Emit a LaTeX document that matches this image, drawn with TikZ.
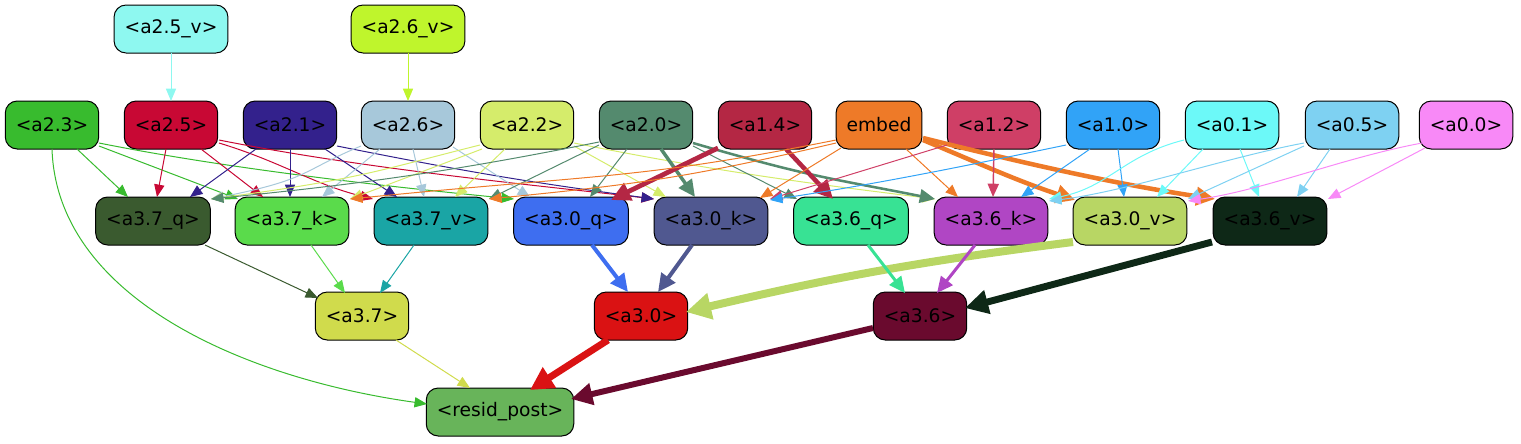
\documentclass[tikz,border=0pt]{standalone}
\usepackage{fontspec}
\setmainfont{DejaVu Sans}
\usetikzlibrary{arrows.meta,calc}
\definecolor{c25v}{HTML}{8EF8F0}
\definecolor{c26v}{HTML}{BFF52C}
\definecolor{c23}{HTML}{38BB2E}
\definecolor{c25}{HTML}{C80834}
\definecolor{c21}{HTML}{33218C}
\definecolor{c26}{HTML}{A7C8DA}
\definecolor{c22}{HTML}{D5EC6B}
\definecolor{c20}{HTML}{548A6E}
\definecolor{c14}{HTML}{B42744}
\definecolor{cemb}{HTML}{EE7A28}
\definecolor{c12}{HTML}{CF3F66}
\definecolor{c10}{HTML}{31A3F7}
\definecolor{c01}{HTML}{6CF9F8}
\definecolor{c05}{HTML}{7ED1F2}
\definecolor{c00}{HTML}{F889F7}
\definecolor{c37q}{HTML}{3A5A2F}
\definecolor{c37k}{HTML}{5ADB4B}
\definecolor{c37v}{HTML}{1AA5A5}
\definecolor{c30q}{HTML}{3E6EF0}
\definecolor{c30k}{HTML}{505890}
\definecolor{c36q}{HTML}{38E294}
\definecolor{c36k}{HTML}{B046C4}
\definecolor{c30v}{HTML}{B8D664}
\definecolor{c36v}{HTML}{0E2817}
\definecolor{c37}{HTML}{D0DB4C}
\definecolor{c30}{HTML}{DA1213}
\definecolor{c36}{HTML}{6A0A2E}
\definecolor{cres}{HTML}{68B45A}
\tikzset{
  nd/.style={draw=black, line width=0.75pt, rounded corners=9pt, minimum height=36pt,
    inner xsep=7.9pt, inner ysep=0pt, font=\fontsize{14pt}{16pt}\selectfont},
  ed/.style 2 args={draw=#1, line width=#2, -{Triangle[length=8pt 1.8, width=6pt 2.2]}}
}
\begin{document}
\begin{tikzpicture}[x=0.75pt,y=-0.75pt]
\useasboundingbox (0,0) rectangle (1521,443);
% rank 0
\node[nd, fill=c25v] (a25v) at (171,29) {<a2.5\_v>};
\node[nd, fill=c26v] (a26v) at (408,29) {<a2.6\_v>};
% rank 1
\node[nd, fill=c23] (a23) at (52,125) {<a2.3>};
\node[nd, fill=c25] (a25) at (171,125) {<a2.5>};
\node[nd, fill=c21] (a21) at (290,125) {<a2.1>};
\node[nd, fill=c26] (a26) at (408,125) {<a2.6>};
\node[nd, fill=c22] (a22) at (527,125) {<a2.2>};
\node[nd, fill=c20] (a20) at (646,125) {<a2.0>};
\node[nd, fill=c14] (a14) at (765,125) {<a1.4>};
\node[nd, fill=cemb] (emb) at (879,125) {embed};
\node[nd, fill=c12] (a12) at (994,125) {<a1.2>};
\node[nd, fill=c10] (a10) at (1113,125) {<a1.0>};
\node[nd, fill=c01] (a01) at (1232,125) {<a0.1>};
\node[nd, fill=c05] (a05) at (1352,125) {<a0.5>};
\node[nd, fill=c00] (a00) at (1466,125) {<a0.0>};
% rank 2
\node[nd, fill=c37q] (a37q) at (153,221) {<a3.7\_q>};
\node[nd, fill=c37k] (a37k) at (292,221) {<a3.7\_k>};
\node[nd, fill=c37v] (a37v) at (431,221) {<a3.7\_v>};
\node[nd, fill=c30q] (a30q) at (571,221) {<a3.0\_q>};
\node[nd, fill=c30k] (a30k) at (711,221) {<a3.0\_k>};
\node[nd, fill=c36q] (a36q) at (851,221) {<a3.6\_q>};
\node[nd, fill=c36k] (a36k) at (991,221) {<a3.6\_k>};
\node[nd, fill=c30v] (a30v) at (1130,221) {<a3.0\_v>};
\node[nd, fill=c36v] (a36v) at (1270,221) {<a3.6\_v>};
% rank 3
\node[nd, fill=c37] (a37) at (362,316) {<a3.7>};
\node[nd, fill=c30] (a30) at (641,316) {<a3.0>};
\node[nd, fill=c36] (a36) at (920,316) {<a3.6>};
% rank 4
\node[nd, fill=cres] (res) at (500,412) {<resid\_post>};

% edges
\draw[ed={c25v}{0.75pt}] ($(a25v)+(0,24)$) -- ($(a25)+(0,-24)$);
\draw[ed={c26v}{0.75pt}] ($(a26v)+(0,24)$) -- ($(a26)+(0,-24)$);
% a2.3
\draw[ed={c23}{0.75pt}] ($(a23)+(25,24)$) -- ($(a37q)+(-25,-24)$);
\draw[ed={c23}{0.75pt}] ($(a23)+(47,21)$) -- ($(a37k)+(-54,-22)$);
\draw[ed={c23}{0.75pt}] ($(a23)+(47,18)$) .. controls +(150,30) and +(-80,-8) .. ($(a30q)+(-57,-22)$);
\draw[ed={c23}{0.75pt}] ($(a23)+(0,24)$) .. controls +(5,150) and +(-180,-25) .. ($(res)+(-73,-8)$);
% a2.5
\draw[ed={c25}{0.75pt}] ($(a25)+(-5,24)$) -- ($(a37q)+(4,-24)$);
\draw[ed={c25}{0.75pt}] ($(a25)+(30,24)$) -- ($(a37k)+(-29,-24)$);
\draw[ed={c25}{0.75pt}] ($(a25)+(48,18)$) .. controls +(60,18) and +(-60,-15) .. ($(a37v)+(-58,-22)$);
\draw[ed={c25}{0.75pt}] ($(a25)+(48,15)$) .. controls +(150,30) and +(-100,-12) .. ($(a30k)+(-57,-22)$);
% a2.1
\draw[ed={c21}{0.75pt}] ($(a21)+(-34,24)$) -- ($(a37q)+(37,-24)$);
\draw[ed={c21}{0.75pt}] ($(a21)+(0,24)$) -- ($(a37k)+(-2,-24)$);
\draw[ed={c21}{0.75pt}] ($(a21)+(35,24)$) -- ($(a37v)+(-34,-24)$);
\draw[ed={c21}{0.75pt}] ($(a21)+(47,21)$) .. controls +(150,30) and +(-110,-15) .. ($(a30k)+(-57,-22)$);
% a2.6
\draw[ed={c26}{0.75pt}] ($(a26)+(-47,21)$) .. controls +(-60,25) and +(100,-20) .. ($(a37q)+(58,-22)$);
\draw[ed={c26}{0.75pt}] ($(a26)+(-28,24)$) -- ($(a37k)+(30,-24)$);
\draw[ed={c26}{0.75pt}] ($(a26)+(5,24)$) -- ($(a37v)+(-7,-24)$);
\draw[ed={c26}{0.75pt}] ($(a26)+(45,22)$) -- ($(a30q)+(-41,-24)$);
% a2.2
\draw[ed={c22}{0.75pt}] ($(a22)+(-47,20)$) .. controls +(-100,25) and +(150,-20) .. ($(a37q)+(58,-22)$);
\draw[ed={c22}{0.75pt}] ($(a22)+(-45,24)$) -- ($(a37k)+(58,-22)$);
\draw[ed={c22}{0.75pt}] ($(a22)+(-22,24)$) -- ($(a37v)+(24,-24)$);
\draw[ed={c22}{0.75pt}] ($(a22)+(47,21)$) -- ($(a30k)+(-45,-24)$);
\draw[ed={c22}{0.75pt}] ($(a22)+(47,18)$) .. controls +(150,30) and +(-120,-15) .. ($(a36k)+(-56,-22)$);
% a2.0
\draw[ed={c20}{0.75pt}] ($(a20)+(-47,17)$) .. controls +(-150,30) and +(150,-15) .. ($(a37q)+(58,-22)$);
\draw[ed={c20}{0.75pt}] ($(a20)+(-47,20)$) -- ($(a37v)+(58,-22)$);
\draw[ed={c20}{0.75pt}] ($(a20)+(-19,24)$) -- ($(a30q)+(19,-24)$);
\draw[ed={c20}{2.6pt}] ($(a20)+(15,24)$) -- ($(a30k)+(-16,-24)$);
\draw[ed={c20}{0.75pt}] ($(a20)+(47,21)$) -- ($(a36q)+(-54,-22)$);
\draw[ed={c20}{1.9pt}] ($(a20)+(47,18)$) .. controls +(120,35) and +(-100,-20) .. ($(a36k)+(-56,-22)$);
% a1.4
\draw[ed={c14}{3.6pt}] ($(a14)+(-47,23)$) -- ($(a30q)+(40,-21)$);
\draw[ed={c14}{3.4pt}] ($(a14)+(21,24)$) -- ($(a36q)+(-18,-22)$);
% embed
\draw[ed={cemb}{0.75pt}] ($(emb)+(-43,15)$) .. controls +(-200,40) and +(250,-25) .. ($(a37k)+(58,-22)$);
\draw[ed={cemb}{0.75pt}] ($(emb)+(-43,18)$) .. controls +(-150,35) and +(150,-15) .. ($(a37v)+(58,-22)$);
\draw[ed={cemb}{0.75pt}] ($(emb)+(-38,23)$) -- ($(a30k)+(49,-23)$);
\draw[ed={cemb}{0.75pt}] ($(emb)+(27,24)$) -- ($(a36k)+(-33,-24)$);
\draw[ed={cemb}{3.4pt}] ($(emb)+(44,15)$) .. controls +(60,25) and +(-60,-20) .. ($(a30v)+(-55,-21)$);
\draw[ed={cemb}{3.4pt}] ($(emb)+(44,13)$) .. controls +(100,25) and +(-100,-15) .. ($(a36v)+(-55,-22)$);
% a1.2
\draw[ed={c12}{1.1pt}] ($(a12)+(0,24)$) -- ($(a36k)+(2,-24)$);
\draw[ed={c12}{0.75pt}] ($(a12)+(-47,20)$) -- ($(a30k)+(59,-22)$);
% a1.0
\draw[ed={c10}{0.75pt}] ($(a10)+(-47,20)$) .. controls +(-120,25) and +(100,-15) .. ($(a30k)+(59,-21)$);
\draw[ed={c10}{0.75pt}] ($(a10)+(-23,24)$) -- ($(a36k)+(30,-24)$);
\draw[ed={c10}{0.75pt}] ($(a10)+(5,24)$) -- ($(a30v)+(-6,-24)$);
% a0.1
\draw[ed={c01}{0.75pt}] ($(a01)+(-48,15)$) .. controls +(-60,15) and +(60,-12) .. ($(a36k)+(58,-22)$);
\draw[ed={c01}{0.75pt}] ($(a01)+(-29,24)$) -- ($(a30v)+(27,-24)$);
\draw[ed={c01}{0.75pt}] ($(a01)+(8,24)$) -- ($(a36v)+(-11,-24)$);
% a0.5
\draw[ed={c05}{0.75pt}] ($(a05)+(-48,18)$) .. controls +(-80,15) and +(80,-10) .. ($(a36k)+(58,-20)$);
\draw[ed={c05}{0.75pt}] ($(a05)+(-48,21)$) -- ($(a30v)+(58,-22)$);
\draw[ed={c05}{0.75pt}] ($(a05)+(-22,24)$) -- ($(a36v)+(27,-24)$);
% a0.0
\draw[ed={c00}{0.75pt}] ($(a00)+(-44,18)$) .. controls +(-80,15) and +(80,-12) .. ($(a30v)+(58,-20)$);
\draw[ed={c00}{0.75pt}] ($(a00)+(-41,23)$) -- ($(a36v)+(58,-22)$);
% lower
\draw[ed={c37q}{0.75pt}] ($(a37q)+(52,24)$) -- ($(a37)+(-44,-18)$);
\draw[ed={c37k}{0.75pt}] ($(a37k)+(19,24)$) -- ($(a37)+(-17,-23)$);
\draw[ed={c37v}{0.75pt}] ($(a37v)+(-17,24)$) -- ($(a37)+(18,-23)$);
\draw[ed={c30q}{3pt}] ($(a30q)+(21,24)$) -- ($(a30)+(-13,-24)$);
\draw[ed={c30k}{3pt}] ($(a30k)+(-19,24)$) -- ($(a30)+(17,-24)$);
\draw[ed={c30v}{6pt}] ($(a30v)+(-57,21)$) to[bend right=3] ($(a30)+(45,-4)$);
\draw[ed={c36q}{2.25pt}] ($(a36q)+(17,24)$) -- ($(a36)+(-15,-23)$);
\draw[ed={c36k}{2.25pt}] ($(a36k)+(-16,24)$) -- ($(a36)+(17,-23)$);
\draw[ed={c36v}{5.2pt}] ($(a36v)+(-58,21)$) -- ($(a36)+(45,-8)$);
\draw[ed={c37}{0.75pt}] ($(a37)+(34,24)$) -- ($(res)+(-30,-24)$);
\draw[ed={c30}{5.2pt}] ($(a30)+(-33,24)$) -- ($(res)+(30,-22)$);
\draw[ed={c36}{4.5pt}] ($(a36)+(-47,12)$) -- ($(res)+(71,-13)$);
\end{tikzpicture}
\end{document}
